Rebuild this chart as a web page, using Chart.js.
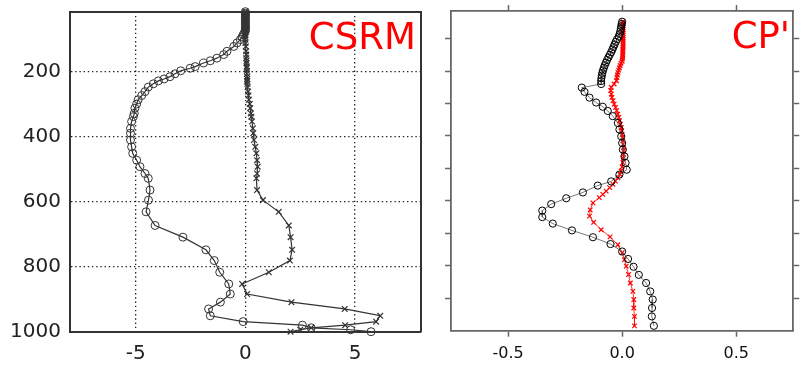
<!DOCTYPE html>
<html>
<head>
<meta charset="utf-8">
<script src="https://cdn.jsdelivr.net/npm/chart.js@4/dist/chart.umd.min.js"></script>
<style>
  html, body { margin: 0; padding: 0; background: #fff; }
  #wrap { position: relative; width: 803px; height: 366px; overflow: hidden; }
  #csrm { position: absolute; left: 0; top: 0; }
  #cp { position: absolute; left: 420px; top: 0; }
</style>
</head>
<body>
<div id="wrap">
  <canvas id="csrm" width="426" height="366"></canvas>
  <canvas id="cp" width="383" height="366"></canvas>
</div>
<script>
// left panel (CSRM): pressure levels and the two profiles
const csrmLevels = [15, 20, 25, 30, 35, 40, 45, 50, 55, 60, 65, 70, 75, 80, 86, 93, 101, 111, 122, 137,
  147, 158, 166, 173, 184, 189, 197, 206, 215, 222, 228, 237, 247, 261, 273, 286, 299, 312, 328, 338,
  353, 374, 389, 410, 431, 451, 472, 492, 513, 528, 564, 595, 631, 673, 709, 748, 781, 817, 853, 884,
  909, 930, 951, 969, 980, 988, 994, 1000];
const csrmCircles = [0, 0, 0, 0, 0, 0, 0, 0, 0, 0, 0, 0, 0, -0.05, -0.1, -0.15, -0.23, -0.38, -0.53, -0.84,
  -0.99, -1.3, -1.6, -1.91, -2.29, -2.52, -2.95, -3.21, -3.44, -3.71, -3.97, -4.2, -4.43, -4.58, -4.73, -4.89, -4.96, -5.04, -5.07, -5.11,
  -5.19, -5.24, -5.24, -5.24, -5.19, -5.14, -4.96, -4.81, -4.58, -4.43, -4.35, -4.42, -4.53, -4.12, -2.85, -1.8, -1.42, -1.17, -0.76, -0.69,
  -1.14, -1.68, -1.6, -0.1, 2.6, 3.0, 4.8, 5.73];
const csrmCrosses = [0, 0, 0, 0, 0, 0, 0, 0, 0, 0, 0, 0, 0, 0, 0, 0, 0, 0, 0.02, 0.03,
  0.04, 0.04, 0.05, 0.05, 0.06, 0.06, 0.07, 0.07, 0.08, 0.08, 0.08, 0.09, 0.1, 0.12, 0.14, 0.16, 0.2, 0.22, 0.25, 0.27,
  0.3, 0.34, 0.36, 0.39, 0.45, 0.5, 0.53, 0.56, 0.53, 0.5, 0.53, 0.8, 1.52, 1.98, 2.06, 2.13, 2.03, 1.07, -0.15, 0.08,
  2.1, 4.53, 6.15, 5.96, 4.55, 3.0, 2.5, 2.06];
const csrmPTicks = [200, 400, 600, 800, 1000];
const csrmXTicks = [-5, 0, 5];

// right panel (CP')
const cpCircleLevels = [48, 55, 62, 70, 78, 86, 94, 102, 110, 118, 126, 134, 142, 150, 158, 166, 174, 182, 190, 198,
  206, 214, 222, 231, 240, 251, 264, 282, 297, 310, 323, 339, 360, 380, 401, 422, 442, 463, 483, 504,
  519, 540, 553, 574, 592, 610, 630, 650, 670, 691, 712, 733, 756, 779, 803, 828, 853, 879, 904, 930, 956, 985];
const cpCircles = [0, -0.002, -0.004, -0.006, -0.008, -0.011, -0.015, -0.022, -0.028, -0.033, -0.038, -0.043, -0.048, -0.054, -0.06, -0.066, -0.071, -0.076, -0.08, -0.084,
  -0.087, -0.089, -0.091, -0.092, -0.092, -0.177, -0.165, -0.143, -0.114, -0.085, -0.063, -0.041, -0.019, -0.012, -0.004, 0, 0.003, 0.01, 0.015, 0.02,
  -0.012, -0.048, -0.107, -0.172, -0.245, -0.311, -0.35, -0.35, -0.304, -0.22, -0.128, -0.051, 0, 0.026, 0.05, 0.073, 0.105, 0.123, 0.134, 0.131, 0.13, 0.139];
const cpCrossLevels = [48, 54, 60, 66, 72, 78, 84, 90, 96, 102, 108, 114, 120, 126, 132, 138, 144, 150, 156, 163,
  170, 176, 183, 190, 197, 204, 212, 220, 230, 240, 250, 260, 271, 281, 291, 302, 312, 322, 333, 343,
  353, 364, 374, 384, 395, 405, 415, 425, 436, 446, 456, 469, 482, 495, 508, 518, 529, 539, 549, 559,
  570, 580, 590, 606, 628, 647, 666, 689, 711, 735, 760, 781, 801, 827, 853, 879, 904, 930, 956, 985];
const cpCrosses = [0.003, 0.004, 0.004, 0.004, 0.004, 0.004, 0.004, 0.004, 0.004, 0.004, 0.004, 0.004, 0.004, 0.004, 0.003, 0.003, 0.003, 0.003, 0.002, 0.001,
  0, -0.005, -0.009, -0.012, -0.015, -0.019, -0.021, -0.023, -0.025, -0.035, -0.048, -0.05, -0.048, -0.045, -0.04, -0.035, -0.029, -0.024, -0.019, -0.015,
  -0.012, -0.008, -0.004, -0.002, 0, 0.002, 0.003, 0.004, 0.006, 0.006, 0.006, 0.005, 0.003, 0, -0.004, -0.01, -0.019, -0.03, -0.04, -0.055,
  -0.07, -0.085, -0.1, -0.128, -0.14, -0.143, -0.125, -0.092, -0.053, -0.019, 0, 0.01, 0.018, 0.028, 0.036, 0.047, 0.051, 0.051, 0.054, 0.054];
const cpPTicks = [100, 200, 300, 400, 500, 600, 700, 800, 900];
const cpXTicks = [-0.5, 0, 0.5];
// red level marker left of the CP' panel
const markerLevel = [660];
const markerX = [-0.82];

const pMin = 15, pMax = 1000;
const FONT = '"DejaVu Sans", sans-serif';

function pairs(xs, ps) { return ps.map((p, i) => ({ x: xs[i], y: p })); }
function setTicks(list) { return s => { s.ticks = list.map(v => ({ value: v })); }; }
function fixSize(w, h) {
  return s => {
    if (w != null) s.width = w;
    if (h != null) s.height = h;
    s.paddingTop = s.paddingBottom = s.paddingLeft = s.paddingRight = 0;
  };
}

const panelLabel = {
  id: 'panelLabel',
  afterDraw(chart, args, opts) {
    const { ctx, chartArea } = chart;
    ctx.save();
    ctx.font = '37px ' + FONT;
    ctx.fillStyle = '#ff0000';
    ctx.textAlign = 'right';
    ctx.textBaseline = 'alphabetic';
    ctx.fillText(opts.text, chartArea.right - opts.dx, chartArea.top + opts.dy);
    ctx.restore();
  }
};

// ---- CSRM ----
const frameL = '#333';
new Chart(document.getElementById('csrm'), {
  type: 'scatter',
  data: {
    datasets: [
      { data: pairs(csrmCircles, csrmLevels), showLine: true, borderColor: '#333', borderWidth: 1.2,
        pointStyle: 'circle', pointRadius: 4, pointBorderWidth: 1, pointBorderColor: '#333',
        pointBackgroundColor: 'rgba(0,0,0,0)', clip: false },
      { data: pairs(csrmCrosses, csrmLevels), showLine: true, borderColor: '#333', borderWidth: 1.2,
        pointStyle: 'crossRot', pointRadius: 4, pointBorderWidth: 1.2, pointBorderColor: '#333', clip: false }
    ]
  },
  options: {
    responsive: false,
    animation: false,
    layout: { padding: 0 },
    plugins: { legend: { display: false }, tooltip: { enabled: false },
      panelLabel: { text: 'CSRM', dx: 5, dy: 37.6 } },
    scales: {
      x: { type: 'linear', position: 'bottom', min: -8, max: 8,
        afterBuildTicks: setTicks(csrmXTicks), afterFit: fixSize(null, 34.3),
        grid: { color: '#222', lineWidth: 1.3, drawTicks: false },
        border: { color: frameL, width: 2, dash: [1.4, 2.8] },
        ticks: { color: '#222', padding: 10, font: { family: FONT, size: 20 }, callback: v => String(v) } },
      x2: { type: 'linear', position: 'top', min: -8, max: 8,
        afterFit: fixSize(null, 11.7),
        grid: { drawOnChartArea: false, drawTicks: false },
        border: { color: frameL, width: 2 }, ticks: { display: false } },
      y: { type: 'linear', position: 'left', reverse: true, min: pMin, max: pMax,
        afterBuildTicks: setTicks(csrmPTicks), afterFit: fixSize(70, null),
        grid: { color: '#222', lineWidth: 1.3, drawTicks: false },
        border: { color: frameL, width: 2, dash: [1.4, 2.8] },
        ticks: { color: '#222', padding: 9, font: { family: FONT, size: 20 }, callback: v => String(v) } },
      y2: { type: 'linear', position: 'right', reverse: true, min: pMin, max: pMax,
        afterFit: fixSize(4.3, null),
        grid: { drawOnChartArea: false, drawTicks: false },
        border: { color: frameL, width: 2 }, ticks: { display: false } }
    }
  },
  plugins: [panelLabel]
});

// ---- CP' ----
const frameR = '#666';
const tickGrid = { drawOnChartArea: false, drawTicks: true, tickLength: 6, tickColor: frameR, tickWidth: 1.5 };
new Chart(document.getElementById('cp'), {
  type: 'scatter',
  data: {
    datasets: [
      { data: pairs(cpCircles, cpCircleLevels), showLine: true, borderColor: '#555', borderWidth: 0.8,
        pointStyle: 'circle', pointRadius: 3.6, pointBorderWidth: 1, pointBorderColor: '#000',
        pointBackgroundColor: 'rgba(0,0,0,0)', clip: false },
      { data: pairs(cpCrosses, cpCrossLevels), showLine: true, borderColor: '#ff0000', borderWidth: 0.8,
        pointStyle: 'crossRot', pointRadius: 3.2, pointBorderWidth: 1.2, pointBorderColor: '#ff0000', clip: false },
      { data: pairs(markerX, markerLevel), showLine: false, pointStyle: 'circle', pointRadius: 7,
        pointBorderWidth: 0, pointBackgroundColor: '#ff0000', pointBorderColor: '#ff0000', clip: false }
    ]
  },
  options: {
    responsive: false,
    animation: false,
    layout: { padding: 0 },
    plugins: { legend: { display: false }, tooltip: { enabled: false },
      panelLabel: { text: "CP'", dx: 3.3, dy: 37.3 } },
    scales: {
      x: { type: 'linear', position: 'bottom', min: -0.75, max: 0.75,
        afterBuildTicks: setTicks(cpXTicks), afterFit: fixSize(null, 35.3),
        grid: tickGrid, border: { color: frameR, width: 1.8 },
        ticks: { color: '#111', padding: 8, font: { family: FONT, size: 16 },
          callback: v => Number(v).toFixed(1) } },
      x2: { type: 'linear', position: 'top', min: -0.75, max: 0.75,
        afterBuildTicks: setTicks(cpXTicks), afterFit: fixSize(null, 11),
        grid: tickGrid, border: { color: frameR, width: 1.8 }, ticks: { display: false } },
      y: { type: 'linear', position: 'left', reverse: true, min: pMin, max: pMax,
        afterBuildTicks: setTicks(cpPTicks), afterFit: fixSize(31, null),
        grid: tickGrid, border: { color: frameR, width: 1.8 }, ticks: { display: false } },
      y2: { type: 'linear', position: 'right', reverse: true, min: pMin, max: pMax,
        afterBuildTicks: setTicks(cpPTicks), afterFit: fixSize(9.7, null),
        grid: tickGrid, border: { color: frameR, width: 1.8 }, ticks: { display: false } }
    }
  },
  plugins: [panelLabel]
});
</script>
</body>
</html>
